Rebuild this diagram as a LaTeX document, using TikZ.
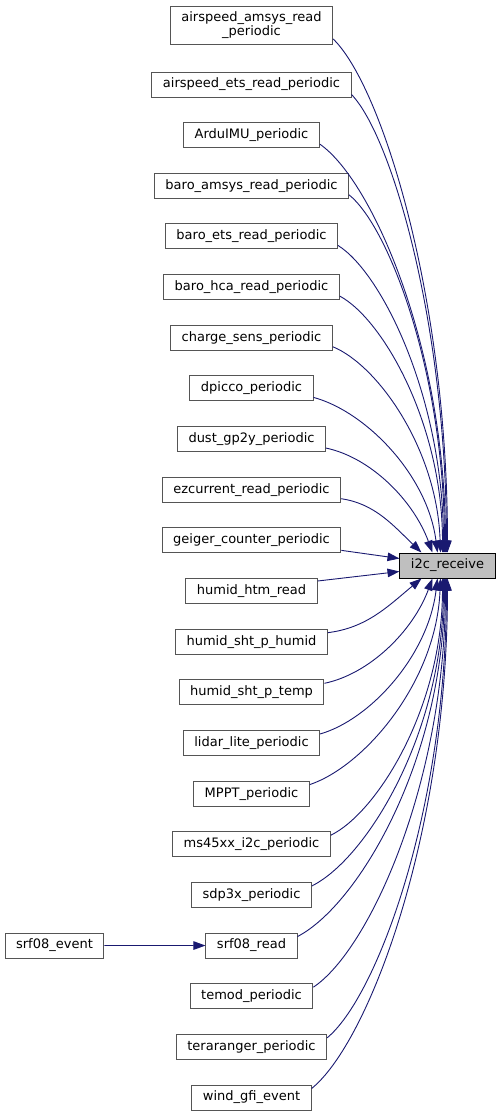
\documentclass[tikz,border=0pt]{standalone}
\usepackage{fontspec}
\setmainfont{DejaVu Sans}
\usetikzlibrary{calc,arrows.meta}
\definecolor{edgec}{HTML}{191970}
\definecolor{boxc}{HTML}{555555}
\definecolor{hilite}{HTML}{BFBFBF}
\begin{document}
\begin{tikzpicture}[x=1pt,y=-1pt,
  font=\fontsize{13}{14.5}\selectfont,
  fn/.style={draw=boxc, line width=1pt, minimum height=25pt, inner xsep=11pt, inner ysep=2pt, fill=white, align=center},
  edge/.style={draw=edgec, line width=0.9pt, -{Triangle[length=12pt,width=8.5pt]}}]
\useasboundingbox (0,0) rectangle (501,1117);

\node[fn, minimum height=38pt] (n0) at (251.5,25) {airspeed\_amsys\_read\\\_periodic};
\foreach \i/\lbl in {1/airspeed\_ets\_read\_periodic, 2/ArduIMU\_periodic,
  3/baro\_amsys\_read\_periodic, 4/baro\_ets\_read\_periodic, 5/baro\_hca\_read\_periodic,
  6/charge\_sens\_periodic, 7/dpicco\_periodic, 8/dust\_gp2y\_periodic,
  9/ezcurrent\_read\_periodic, 10/geiger\_counter\_periodic, 11/humid\_htm\_read,
  12/humid\_sht\_p\_humid, 13/humid\_sht\_p\_temp, 14/lidar\_lite\_periodic,
  15/MPPT\_periodic, 16/ms45xx\_i2c\_periodic, 17/sdp3x\_periodic, 18/srf08\_read,
  19/temod\_periodic, 20/teraranger\_periodic, 21/wind\_gfi\_event}
  \node[fn] (n\i) at (251.5,{84.5+50.65*(\i-1)}) {\lbl};

\node[fn, draw=black, fill=hilite, minimum width=95pt] (i2c) at (447.5,565.5) {i2c\_receive};
\node[fn] (ev) at (54.5,945.5) {srf08\_event};

% top group
\foreach \i/\tx/\dy/\f in {0/48/14/0,1/47/10/0,2/46/9/0,3/45/9/0,4/44/9/0,5/43/9/0,6/41/9/0.03,7/38/9/0.08,8/33/9/0.18,9/22/9/0.35}
  \draw[edge] let \p1=($(n\i.east)+(0,\dy)$), \p2=($(i2c.north west)+(\tx,0)$) in
    (\p1) .. controls ({\x1+0.42*(\x2-\x1)},{\y1+0.09*(\y2-\y1)}) and ({\x2-\f*(\x2-\x1)},{\y1+0.5*(\y2-\y1)}) .. (\p2);
% bottom group
\foreach \i/\tx/\dy/\f in {12/22/-9/0.35,13/33/-9/0.18,14/38/-9/0.08,15/41/-9/0.03,16/43/-9/0,17/44/-9/0,18/45/-9/0,19/46/-9/0,20/47/-9/0,21/48/-9/0}
  \draw[edge] let \p1=($(n\i.east)+(0,\dy)$), \p2=($(i2c.south west)+(\tx,0)$) in
    (\p1) .. controls ({\x1+0.42*(\x2-\x1)},{\y1+0.09*(\y2-\y1)}) and ({\x2-\f*(\x2-\x1)},{\y1+0.5*(\y2-\y1)}) .. (\p2);
% middle
\draw[edge] ($(n10.east)+(0,10)$) -- ($(i2c.west)+(0,-7)$);
\draw[edge] ($(n11.east)+(0,-10)$) -- ($(i2c.west)+(0,6)$);
% srf08
\draw[edge] (ev) -- (n18);
\end{tikzpicture}
\end{document}
